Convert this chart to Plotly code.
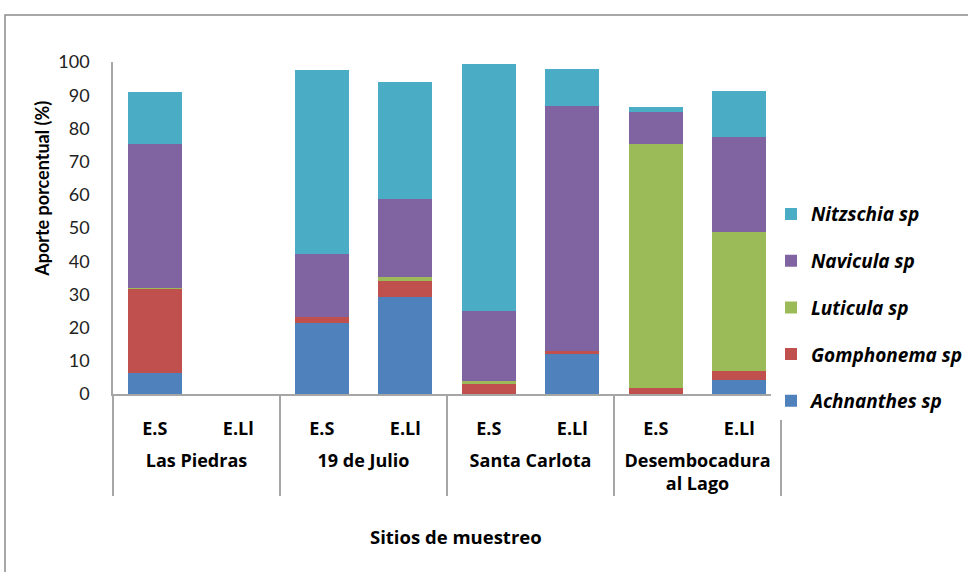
import plotly.graph_objects as go

sites = ["<br>Las Piedras", "<br>Las Piedras", "<br>19 de Julio", "<br>19 de Julio",
         "<br>Santa Carlota", "<br>Santa Carlota",
         "<br>Desembocadura<br>al Lago", "<br>Desembocadura<br>al Lago"]
seasons = ["E.S", "E.Ll", "E.S", "E.Ll", "E.S", "E.Ll", "E.S", "E.Ll"]

achnanthes = [6.2, 0, 21.3, 29.1, 0, 12.2, 0, 4.1]
gomphonema = [25.5, 0, 1.8, 5.0, 3.1, 0.7, 1.7, 2.8]
luticula = [0.3, 0, 0, 1.0, 0.8, 0, 73.5, 41.8]
navicula = [43.3, 0, 19.2, 23.7, 21.0, 73.9, 9.6, 28.7]
nitzschia = [15.6, 0, 55.3, 35.1, 74.4, 11.1, 1.7, 13.8]

series = [
    ("Achnanthes sp", achnanthes, "#4F81BD", 5),
    ("Gomphonema sp", gomphonema, "#C0504D", 4),
    ("Luticula sp", luticula, "#9BBB59", 3),
    ("Navicula sp", navicula, "#8064A2", 2),
    ("Nitzschia sp", nitzschia, "#4BACC6", 1),
]

FONT = "Open Sans"
fig = go.Figure()
for name, vals, col, rank in series:
    fig.add_trace(go.Bar(
        x=[sites, seasons], y=vals, name="<b><i>" + name + "</i></b>",
        marker=dict(color=col, line=dict(width=0)),
        legendgroup=name, legendrank=rank,
    ))

W, H = 968, 572
L, R, T, B = 113, 781, 62, 394.5
fig.update_layout(
    width=W, height=H,
    margin=dict(l=L, r=W - R, t=T, b=H - B, autoexpand=False),
    barmode="stack", bargap=0.35,
    plot_bgcolor="white", paper_bgcolor="white",
    font=dict(family=FONT, color="#000000"),
    legend=dict(
        x=(771 - L) / (R - L), xanchor="left",
        y=(B - 308) / (B - T), yanchor="middle",
        traceorder="grouped", tracegroupgap=19,
        font=dict(size=19, family=FONT, color="#000000"),
        itemwidth=30,
    ),
    showlegend=True,
)
fig.update_xaxes(
    type="multicategory",
    showline=True, linecolor="#a6a6a6", linewidth=1.5,
    showgrid=False, ticks="",
    ticklabelstandoff=18,
    tickfont=dict(size=18, family=FONT, color="#000000", weight="bold"),
    showdividers=True, dividercolor="#a6a6a6", dividerwidth=1.5,
)
fig.update_yaxes(
    range=[0, 100], dtick=10,
    showline=True, linecolor="#a6a6a6", linewidth=1.5,
    showgrid=False, zeroline=False, ticks="",
    ticklabelstandoff=18,
    tickfont=dict(size=18, family="Lato", color="#222222"),
)
fig.add_annotation(
    text="<b>Aporte porcentual (%)</b>", textangle=-90,
    xref="paper", yref="paper", x=(42 - L) / (R - L), y=(B - 189) / (B - T),
    xanchor="center", yanchor="middle",
    showarrow=False, font=dict(size=18, family="Lato", color="#000000"),
)
fig.add_annotation(
    text="<b>Sitios de muestreo</b>",
    xref="paper", yref="paper", x=(456 - L) / (R - L), y=(B - 537) / (B - T),
    xanchor="center", yanchor="middle",
    showarrow=False, font=dict(size=18.5, family=FONT, color="#000000"),
)
fig.add_shape(
    type="rect", xref="paper", yref="paper",
    x0=(5 - L) / (R - L), x1=2.0, y0=-2.0, y1=(B - 15) / (B - T),
    line=dict(color="#8c8c8c", width=1.5), layer="below",
)
fig.write_html("out.html", config={"displayModeBar": False},
               post_script="document.body.style.margin='0';")
